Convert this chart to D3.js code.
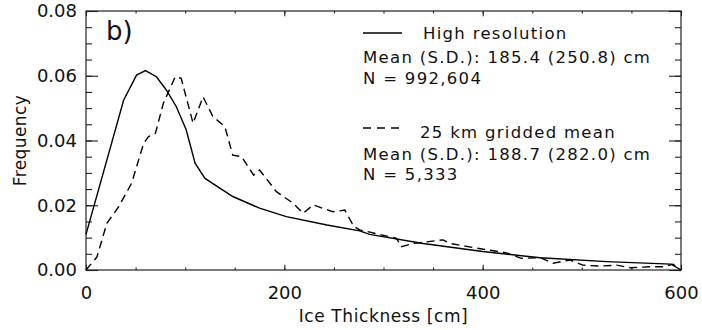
<!DOCTYPE html>
<html>
<head>
<meta charset="utf-8">
<script src="https://cdn.jsdelivr.net/npm/d3@7"></script>
<style>
  body { margin: 0; background: #fff; }
  svg { display: block; font-family: "DejaVu Sans", sans-serif; }
</style>
</head>
<body>
<div id="chart"></div>
<script>
// values
const hiResThickness = [0, 38, 51, 60, 71, 81, 91, 101, 110, 120, 148, 175, 202, 243, 276, 286, 340, 400, 458, 525, 590, 600]
const hiResFrequency = [0.0110, 0.0525, 0.0602, 0.0616, 0.0597, 0.0556, 0.0505, 0.0433, 0.0330, 0.0283, 0.0227, 0.0191, 0.0165, 0.0139, 0.0121, 0.0110, 0.0082, 0.0057, 0.0038, 0.0026, 0.0018, 0.0000]

const gridThickness = [0, 11, 21, 33, 46, 58, 63, 70, 78, 90, 96, 108, 118, 128, 140, 148, 157, 169, 175, 192, 209, 219, 229, 249, 261, 270, 276, 313, 318, 330, 360, 367, 391, 424, 439, 458, 471, 488, 501, 518, 535, 549, 569, 582, 592, 600]
const gridFrequency = [0.0000, 0.0040, 0.0144, 0.0196, 0.0268, 0.0390, 0.0412, 0.0422, 0.0515, 0.0597, 0.0592, 0.0453, 0.0535, 0.0474, 0.0443, 0.0355, 0.0350, 0.0293, 0.0309, 0.0242, 0.0206, 0.0175, 0.0201, 0.0180, 0.0185, 0.0135, 0.0124, 0.0098, 0.0072, 0.0082, 0.0093, 0.0082, 0.0069, 0.0053, 0.0036, 0.0038, 0.0021, 0.0031, 0.0015, 0.0012, 0.0015, 0.0007, 0.0010, 0.0010, 0.0018, 0.0000]

const xTicks = [0, 200, 400, 600]
const yTicks = [0, 0.02, 0.04, 0.06, 0.08]
const xMinorStep = 50
const yMinorStep = 0.005

const legendHiRes = ['High resolution', 'Mean (S.D.): 185.4 (250.8) cm', 'N = 992,604']
const legendGrid = ['25 km gridded mean', 'Mean (S.D.): 188.7 (282.0) cm', 'N = 5,333']

const widthD3 = 702
const heightD3 = 330
const plot = { left: 86, right: 681, top: 11, bottom: 270 }

const svg = d3.select('#chart').append('svg')
    .attr('width', widthD3)
    .attr('height', heightD3)

const xScale = d3.scaleLinear().domain([0, 600]).range([plot.left, plot.right])
const yScale = d3.scaleLinear().domain([0, 0.08]).range([plot.bottom, plot.top])

const xMinor = d3.range(0, 600 + 1, xMinorStep)
const yMinor = d3.range(0, 16 + 1).map(i => i * yMinorStep)

// IDL style: tick length is a fraction of the plot size
const xMajorLen = 5.2, xMinorLen = 2.6
const yMajorLen = 12, yMinorLen = 6

const styleAxis = (g) => {
    g.select('.domain').remove()
    g.selectAll('line').attr('stroke', '#222').attr('stroke-width', 1.1)
    g.selectAll('text').attr('fill', '#111').attr('font-size', 18)
        .attr('font-family', '"DejaVu Sans", sans-serif')
}

// bottom axis
svg.append('g')
    .attr('transform', `translate(0, ${plot.bottom})`)
    .call(d3.axisBottom(xScale).tickValues(xMinor).tickSize(-xMinorLen).tickFormat(''))
    .call(styleAxis)
svg.append('g')
    .attr('id', 'x-axis')
    .attr('transform', `translate(0, ${plot.bottom})`)
    .call(d3.axisBottom(xScale).tickValues(xTicks).tickSize(-xMajorLen).tickPadding(16).tickFormat(d3.format('d')))
    .call(styleAxis)

// top axis
svg.append('g')
    .attr('transform', `translate(0, ${plot.top})`)
    .call(d3.axisTop(xScale).tickValues(xMinor).tickSize(-xMinorLen).tickFormat(''))
    .call(styleAxis)
svg.append('g')
    .attr('transform', `translate(0, ${plot.top})`)
    .call(d3.axisTop(xScale).tickValues(xTicks).tickSize(-xMajorLen).tickFormat(''))
    .call(styleAxis)

// left axis
svg.append('g')
    .attr('transform', `translate(${plot.left}, 0)`)
    .call(d3.axisLeft(yScale).tickValues(yMinor).tickSize(-yMinorLen).tickFormat(''))
    .call(styleAxis)
svg.append('g')
    .attr('id', 'y-axis')
    .attr('transform', `translate(${plot.left}, 0)`)
    .call(d3.axisLeft(yScale).tickValues(yTicks).tickSize(-yMajorLen).tickPadding(9).tickFormat(d3.format('.2f')))
    .call(styleAxis)

// right axis
svg.append('g')
    .attr('transform', `translate(${plot.right}, 0)`)
    .call(d3.axisRight(yScale).tickValues(yMinor).tickSize(-yMinorLen).tickFormat(''))
    .call(styleAxis)
svg.append('g')
    .attr('transform', `translate(${plot.right}, 0)`)
    .call(d3.axisRight(yScale).tickValues(yTicks).tickSize(-yMajorLen).tickFormat(''))
    .call(styleAxis)

// frame
svg.append('rect')
    .attr('x', plot.left).attr('y', plot.top)
    .attr('width', plot.right - plot.left).attr('height', plot.bottom - plot.top)
    .attr('fill', 'none').attr('stroke', '#222').attr('stroke-width', 1.2)

// lines
const line = d3.line().x(d => xScale(d[0])).y(d => yScale(d[1]))

svg.append('path')
    .datum(d3.zip(hiResThickness, hiResFrequency))
    .attr('d', line)
    .attr('fill', 'none').attr('stroke', '#000').attr('stroke-width', 1.4)

svg.append('path')
    .datum(d3.zip(gridThickness, gridFrequency))
    .attr('d', line)
    .attr('fill', 'none').attr('stroke', '#000').attr('stroke-width', 1.4)
    .attr('stroke-dasharray', '8,5')

// panel label
svg.append('text')
    .text('b)')
    .attr('x', 106).attr('y', 40)
    .attr('font-size', 26).attr('fill', '#111')

// axis titles
svg.append('text')
    .text('Ice Thickness [cm]')
    .attr('x', (plot.left + plot.right) / 2).attr('y', 322)
    .attr('text-anchor', 'middle')
    .attr('font-size', 17).attr('letter-spacing', 0.6).attr('fill', '#111')

svg.append('text')
    .text('Frequency')
    .attr('transform', `translate(26, ${(plot.top + plot.bottom) / 2}) rotate(-90)`)
    .attr('text-anchor', 'middle')
    .attr('font-size', 17).attr('letter-spacing', 0.4).attr('fill', '#111')

// legend
const legend = svg.append('g').attr('id', 'legend')
const legendText = (str, x, y) => legend.append('text')
    .text(str).attr('x', x).attr('y', y)
    .attr('font-size', 16.5).attr('letter-spacing', 1.3).attr('fill', '#111')

legend.append('line')
    .attr('x1', 363).attr('x2', 402).attr('y1', 33).attr('y2', 33)
    .attr('stroke', '#000').attr('stroke-width', 1.6)
legendText(legendHiRes[0], 423, 39)
legendText(legendHiRes[1], 363, 63)
legendText(legendHiRes[2], 363, 84)

legend.append('line')
    .attr('x1', 363).attr('x2', 402).attr('y1', 128).attr('y2', 128)
    .attr('stroke', '#000').attr('stroke-width', 1.6)
    .attr('stroke-dasharray', '8,6')
legendText(legendGrid[0], 420, 138)
legendText(legendGrid[1], 363, 160)
legendText(legendGrid[2], 363, 180)
</script>
</body>
</html>
